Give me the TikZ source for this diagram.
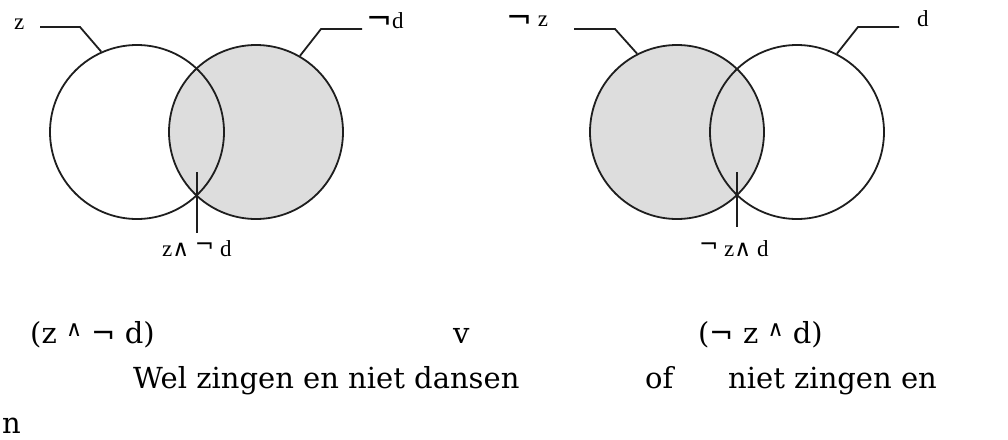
\documentclass[tikz,border=0pt]{standalone}
\usepackage{fontspec}
\setmainfont{Liberation Serif}
\newfontfamily\symfont{DejaVu Sans}
\newfontfamily\bodyfont{DejaVu Serif}
\usetikzlibrary{positioning, calc}
\definecolor{vennGr}{RGB}{221,221,221}
\definecolor{vennLn}{RGB}{30,30,30}
% logic signs
\newcommand{\bnt}{{\symfont\fontsize{31}{31}\selectfont\raisebox{-0.05em}{¬}}}
\newcommand{\lnt}{{\symfont ¬}}
\newcommand{\lan}{{\symfont ∧}}
\newcommand{\snt}{{\symfont\raisebox{0.15em}{¬}}}
\newcommand{\san}{{\symfont\fontsize{22}{22}\selectfont\raisebox{0.3em}{∧}}}

\begin{document}
\begin{tikzpicture}[
  x=1pt, y=-1pt,
  %% ── shapes ───────────────────────────────────────────────────────────────
  setc/.style = {circle, draw=vennLn, line width=1.8pt,
                 minimum size=174pt, inner sep=0pt},
  lead/.style = {draw=vennLn, line width=1.8pt},
  %% ── texts ────────────────────────────────────────────────────────────────
  lab/.style  = {font=\fontsize{23}{26}\selectfont,
                 anchor=base west, inner sep=0pt},
  txt/.style  = {font=\bodyfont\fontsize{29}{34}\selectfont,
                 anchor=base west, inner sep=0pt},
]
\useasboundingbox (0,0) rectangle (1008,439);

%% ═══════════════════════════════════════════════════════════════════════════
%% LEFT VENN: z and not d
%% ═══════════════════════════════════════════════════════════════════════════
\node[setc, fill=vennGr] (dL) at (256,132) {};
\node[setc]              (zL) at (137,132) {};

\node[lab] (zLlab) at (14,29)  {z};
\node[lab] (dLlab) at (366,28) {\bnt d};
\node[lab] (xLlab) at (162,256) {z\lan\ \snt\ d};

\coordinate (zLa) at (40,27);
\coordinate (zLb) at (80,27);
\coordinate (dLa) at (362,29);
\coordinate (dLb) at (321,29);
\coordinate (xLt) at (197,172);
\coordinate (xLb) at (197,233);

\draw[lead] (zLa) -- (zLb) -- (zL.114);
\draw[lead] (dLa) -- (dLb) -- (dL.60);
\draw[lead] (xLt) -- (xLb);

%% ═══════════════════════════════════════════════════════════════════════════
%% RIGHT VENN: not z and d
%% ═══════════════════════════════════════════════════════════════════════════
\node[setc, fill=vennGr] (zR) at (677,132) {};
\node[setc]              (dR) at (797,132) {};

\node[lab] (zRlab) at (506,27)  {\bnt\ z};
\node[lab] (dRlab) at (917,27)  {d};
\node[lab] (xRlab) at (699,256) {\snt\ z\lan\ d};

\coordinate (zRa) at (574,29);
\coordinate (zRb) at (615,29);
\coordinate (dRa) at (899,27);
\coordinate (dRb) at (858,27);
\coordinate (xRt) at (737,172);
\coordinate (xRb) at (737,227);

\draw[lead] (zRa) -- (zRb) -- (zR.117);
\draw[lead] (dRa) -- (dRb) -- (dR.63);
\draw[lead] (xRt) -- (xRb);

%% ── formula and reading ──────────────────────────────────────────────────
\node[txt] (fL)  at (30,343)  {(z \san\ \lnt\ d)};
\node[txt] (fOr) at (453,343) {v};
\node[txt] (fR)  at (698,343) {(\lnt\ z \san\ d)};

\node[txt] (rL)  at (133,388) {Wel zingen en niet dansen};
\node[txt] (rOr) at (645,388) {of};
\node[txt] (rR)  at (728,388) {niet zingen en};
\node[txt] (rN)  at (2,433)   {n};

\end{tikzpicture}
\end{document}
